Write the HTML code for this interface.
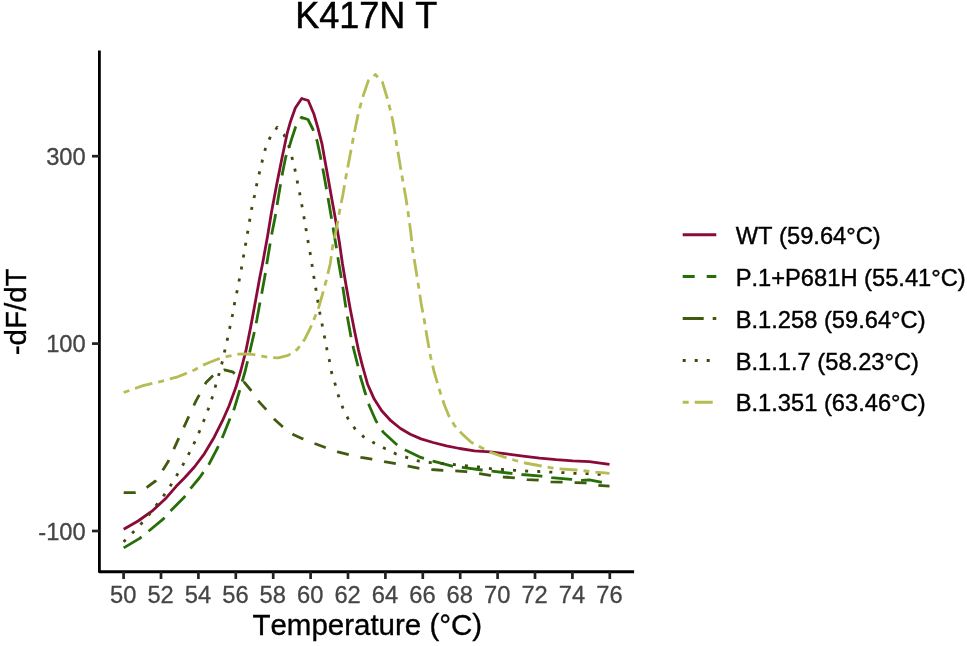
<!DOCTYPE html>
<html><head><meta charset="utf-8"><title>K417N T</title>
<style>
html,body{margin:0;padding:0;background:#fff;}
svg{display:block;}
text{font-family:"Liberation Sans",Arial,Helvetica,sans-serif;font-kerning:none;}
</style></head>
<body>
<svg width="967" height="646" viewBox="0 0 967 646">
<rect width="967" height="646" fill="#ffffff"/>
<text x="366.2" y="28.4" text-anchor="middle" font-size="36" fill="#000" stroke="#000" stroke-width="0.5">K417N T</text>
<g fill="none" stroke-width="2.8" stroke-linejoin="round" stroke-linecap="butt">
<polyline stroke="#8A0A3A" points="123.7,529.3 138.1,521.0 153.0,510.3 166.2,497.9 176.2,486.3 184.4,478.0 194.4,467.0 204.3,453.8 214.2,437.2 222.5,420.7 229.1,405.8 235.8,387.6 240.7,371.0 245.7,351.7 250.7,326.9 255.6,300.4 259.8,277.2 262.5,264.0 267.5,236.5 271.6,211.6 276.6,185.1 282.2,157.0 287.3,132.8 290.6,121.2 295.3,108.0 301.7,98.5 308.2,100.5 313.8,113.7 317.9,127.8 322.1,144.4 324.3,157.0 327.9,176.9 332.0,200.0 336.2,223.2 339.5,243.1 342.5,264.0 346.1,285.5 350.2,308.7 354.4,330.2 358.5,350.1 361.8,363.3 363.9,371.0 367.6,384.2 374.2,399.1 381.7,410.7 390.8,420.7 400.5,428.5 410.3,434.2 421.0,438.9 433.1,442.5 446.4,445.8 459.6,448.5 474.5,450.8 490.0,451.8 506.6,453.9 523.1,456.1 539.7,458.1 556.2,459.7 572.8,460.9 589.3,461.7 609.5,464.4"/>
<polyline stroke="#415B0E" stroke-dasharray="12 12" points="123.7,492.6 134.8,492.6 141.0,491.0 147.2,487.1 155.5,481.0 163.7,468.7 167.9,462.1 176.2,443.8 186.1,422.3 196.0,400.8 206.0,382.6 212.6,376.0 218.0,372.0 224.5,369.8 232.5,371.8 243.2,380.9 250.7,390.0 258.9,401.6 265.8,409.1 274.9,419.8 282.4,426.5 293.1,434.4 303.0,438.9 314.6,443.5 325.4,447.5 337.8,451.8 347.7,454.3 361.0,457.4 371.8,459.2 384.2,461.7 395.8,463.7 408.2,466.2 419.4,468.3 431.5,469.5 443.0,470.3 455.5,470.8 466.2,471.7 479.5,473.6 490.2,475.3 503.4,477.0 514.8,477.9 527.3,479.6 538.0,480.1 550.9,481.8 561.2,482.1 574.4,482.6 585.2,482.9 598.4,485.4 609.5,486.2"/>
<polyline stroke="#266E07" stroke-dasharray="21 9" points="123.7,547.9 139.7,538.4 148.8,531.0 163.7,518.6 171.2,510.3 184.4,497.0 191.1,487.9 199.3,478.0 209.3,463.7 217.5,448.0 222.5,437.2 229.1,420.7 234.1,409.1 239.1,392.5 242.4,380.9 245.2,371.0 249.8,351.7 254.0,333.5 256.8,320.0 259.7,304.0 262.0,292.1 265.0,275.6 266.8,263.8 269.1,249.7 271.6,234.8 274.9,218.3 279.0,193.4 282.4,173.6 285.7,157.0 289.0,147.7 291.5,139.4 295.6,127.0 301.4,117.4 308.0,119.5 313.0,129.5 317.1,141.0 320.4,156.5 323.7,173.6 326.2,187.6 328.7,201.7 331.2,216.6 333.7,231.5 336.2,246.4 338.8,263.5 341.1,276.4 343.6,292.1 345.3,303.7 347.7,318.6 350.7,335.2 353.5,348.4 357.7,365.0 360.2,376.0 365.1,392.5 369.3,405.8 375.9,420.7 383.3,432.3 395.8,443.8 405.3,450.0 419.8,457.1 433.1,461.2 452.2,466.2 462.1,467.4 481.9,470.0 491.9,471.2 511.6,473.4 521.6,474.5 541.4,476.2 551.4,477.6 571.1,479.3 581.1,480.4 589.3,479.9 600.9,482.1 609.5,483.5"/>
<polyline stroke="#3F4A0C" stroke-dasharray="3.03 9.07" points="123.6,541.9 124.5,540.9 133.1,532.3 141.4,523.5 149.3,514.4 156.6,504.8 164.1,495.1 170.9,485.1 177.0,475.0 183.3,464.2 189.1,453.3 194.4,442.7 199.3,431.6 204.0,420.2 208.4,408.7 212.3,397.2 215.6,385.6 219.2,373.5 222.2,362.2 224.8,350.6 227.5,338.7 230.0,326.7 232.5,314.8 234.6,303.1 237.1,291.0 239.4,279.1 241.7,267.0 252.0,206.8 254.5,195.7 256.8,184.1 259.5,172.4 262.3,160.6 265.3,149.0 270.5,136.5 277.2,127.3 284.0,134.8 289.3,147.4 292.3,158.8 295.2,170.7 297.5,182.5 299.9,194.5 302.0,206.0 304.2,218.4 306.2,230.2 308.2,242.3 310.3,254.0 312.2,266.0 314.0,277.7 316.0,289.7 317.9,301.6 319.9,313.3 322.3,325.4 324.6,337.2 326.9,349.3 329.5,361.0 331.7,373.0 335.3,384.6 338.6,396.3 342.8,407.8 348.1,418.8 354.9,428.6 363.8,436.9 374.6,443.2 385.0,448.6 395.8,453.8 407.4,457.6 419.2,461.2 431.1,462.6 443.0,463.7 455.0,464.7 466.7,465.9 478.8,467.0 490.7,468.7 502.6,469.5 514.6,470.3 526.7,471.1 538.6,471.5 550.3,472.1 562.4,472.6 574.4,473.3 586.4,473.6 598.1,474.3 609.5,475.0"/>
<polyline stroke="#B6BC54" stroke-dasharray="6.02 6.02 18.05 6.02" points="123.7,392.5 143.0,385.6 161.3,381.3 177.8,376.8 194.4,370.0 202.6,365.3 209.3,362.5 217.5,359.2 227.5,356.4 238.2,354.2 245.7,353.9 254.0,354.7 263.3,356.4 269.9,357.5 278.2,357.9 288.1,355.4 297.3,349.3 304.7,339.3 310.5,327.7 314.6,317.8 318.8,307.0 322.1,295.5 326.2,280.6 330.2,264.0 332.5,247.2 336.2,229.8 339.5,211.6 342.8,195.1 346.1,176.0 349.7,157.0 352.4,142.7 354.7,131.1 357.7,116.2 360.2,106.3 363.5,94.7 368.4,80.6 375.4,74.5 382.5,82.3 387.2,98.0 390.0,108.8 392.5,119.5 394.9,132.8 396.6,144.4 398.7,156.5 402.4,178.5 405.7,196.7 408.2,213.3 410.7,231.5 412.6,249.7 415.0,264.0 418.2,284.0 421.2,303.7 424.3,320.3 427.3,338.5 430.6,356.7 433.9,371.0 437.3,382.6 440.6,393.4 444.7,405.8 448.8,415.7 454.6,425.6 462.1,433.9 471.2,442.2 481.1,447.5 490.2,452.1 504.3,457.1 515.5,460.5 525.0,463.0 541.3,466.0 550.4,467.7 559.5,468.8 576.1,470.0 586.0,471.0 596.0,472.2 609.5,473.3"/>
</g>
<g stroke="#000" stroke-width="2.8" fill="none" stroke-linecap="butt" stroke-linejoin="round">
<polyline points="99.4,50.5 99.4,571.75 634.1,571.75"/>
</g>
<g stroke="#222" stroke-width="2.7" stroke-linecap="butt"><line x1="123.6" y1="571.75" x2="123.6" y2="579" /><line x1="161.0" y1="571.75" x2="161.0" y2="579" /><line x1="198.4" y1="571.75" x2="198.4" y2="579" /><line x1="235.8" y1="571.75" x2="235.8" y2="579" /><line x1="273.2" y1="571.75" x2="273.2" y2="579" /><line x1="310.6" y1="571.75" x2="310.6" y2="579" /><line x1="348.0" y1="571.75" x2="348.0" y2="579" /><line x1="385.4" y1="571.75" x2="385.4" y2="579" /><line x1="422.8" y1="571.75" x2="422.8" y2="579" /><line x1="460.2" y1="571.75" x2="460.2" y2="579" /><line x1="497.6" y1="571.75" x2="497.6" y2="579" /><line x1="535.0" y1="571.75" x2="535.0" y2="579" /><line x1="572.4" y1="571.75" x2="572.4" y2="579" /><line x1="609.8" y1="571.75" x2="609.8" y2="579" /><line x1="92" y1="156.2" x2="99.4" y2="156.2" /><line x1="92" y1="343.6" x2="99.4" y2="343.6" /><line x1="92" y1="531.0" x2="99.4" y2="531.0" /></g>
<g font-size="23.7" fill="#454545" stroke="#454545" stroke-width="0.3"><text x="123.2" y="602.8" text-anchor="middle">50</text><text x="160.6" y="602.8" text-anchor="middle">52</text><text x="198.0" y="602.8" text-anchor="middle">54</text><text x="235.4" y="602.8" text-anchor="middle">56</text><text x="272.8" y="602.8" text-anchor="middle">58</text><text x="310.2" y="602.8" text-anchor="middle">60</text><text x="347.6" y="602.8" text-anchor="middle">62</text><text x="385.0" y="602.8" text-anchor="middle">64</text><text x="422.4" y="602.8" text-anchor="middle">66</text><text x="459.8" y="602.8" text-anchor="middle">68</text><text x="497.2" y="602.8" text-anchor="middle">70</text><text x="534.6" y="602.8" text-anchor="middle">72</text><text x="572.0" y="602.8" text-anchor="middle">74</text><text x="609.4" y="602.8" text-anchor="middle">76</text><text x="85.7" y="164.7" text-anchor="end">300</text><text x="85.7" y="352.1" text-anchor="end">100</text><text x="85.7" y="539.5" text-anchor="end">-100</text></g>
<text x="367.3" y="635.4" text-anchor="middle" font-size="29.5" fill="#000" stroke="#000" stroke-width="0.35">Temperature (°C)</text>
<text transform="translate(25.5,311.8) rotate(-90)" text-anchor="middle" font-size="29.5" fill="#000" stroke="#000" stroke-width="0.35">-dF/dT</text>
<g stroke-linecap="butt"><line x1="682.7" y1="234.7" x2="716.3" y2="234.7" stroke="#8A0A3A" stroke-width="3" /><line x1="682.7" y1="276.5" x2="716.3" y2="276.5" stroke="#266E07" stroke-width="3" stroke-dasharray="12 12" /><line x1="682.7" y1="318.5" x2="716.3" y2="318.5" stroke="#415B0E" stroke-width="3" stroke-dasharray="21 9" /><line x1="682.7" y1="360.5" x2="716.3" y2="360.5" stroke="#3F4A0C" stroke-width="3" stroke-dasharray="3 9" /><line x1="682.7" y1="402.2" x2="716.3" y2="402.2" stroke="#B6BC54" stroke-width="3" stroke-dasharray="6 6 18 6" /></g>
<g font-size="23.7" fill="#000" stroke="#000" stroke-width="0.4"><text x="735.7" y="243.9">WT (59.64°C)</text><text x="735.7" y="285.7">P.1+P681H (55.41°C)</text><text x="735.7" y="327.7">B.1.258 (59.64°C)</text><text x="735.7" y="369.7">B.1.1.7 (58.23°C)</text><text x="735.7" y="411.4">B.1.351 (63.46°C)</text></g>
</svg>
</body></html>
